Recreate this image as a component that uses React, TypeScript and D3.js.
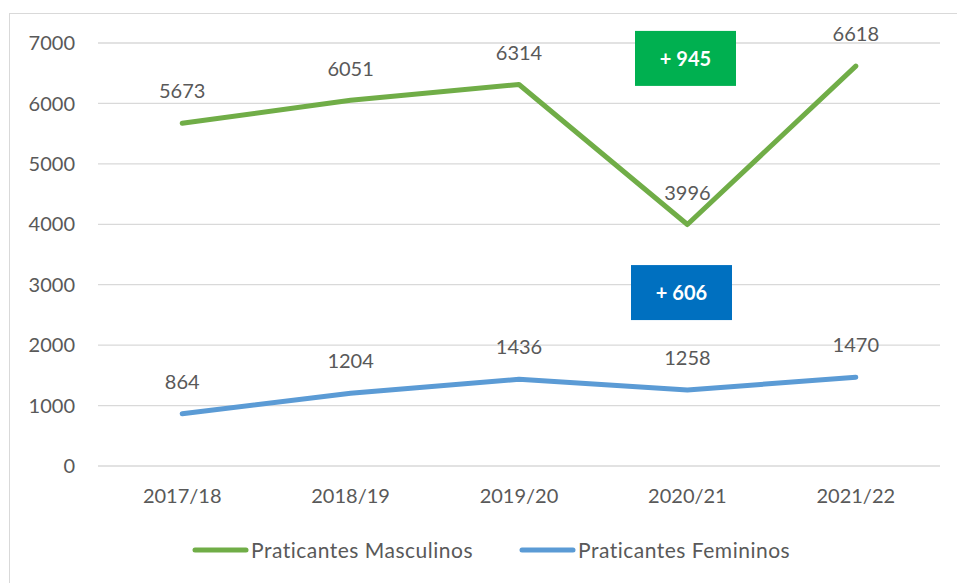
import React from "react";
import * as d3 from "d3";

const categories = ["2017/18", "2018/19", "2019/20", "2020/21", "2021/22"];
const masculinos = [5673, 6051, 6314, 3996, 6618];
const femininos = [864, 1204, 1436, 1258, 1470];
const yTicks = [0, 1000, 2000, 3000, 4000, 5000, 6000, 7000];
const seriesNames = ["Praticantes Masculinos", "Praticantes Femininos"];
const badges = [
  { label: "+ 945", value: 6745, color: "#00B050" },
  { label: "+ 606", value: 2870, color: "#0070C0" },
];

const W = 957;
const H = 583;
const FONT = "Lato, 'Open Sans', sans-serif";
const TEXT = "#595959";

export default function App() {
  const x = d3.scaleBand<string>().domain(categories).range([98, 940]);
  const y = d3.scaleLinear().domain([0, 7000]).range([466, 43]);
  const cx = (c: string) => (x(c) as number) + x.bandwidth() / 2;

  const line = d3
    .line<number>()
    .x((_, i) => cx(categories[i]))
    .y((d) => y(d));

  const series = [
    { name: seriesNames[0], values: masculinos, color: "#70AD47" },
    { name: seriesNames[1], values: femininos, color: "#5B9BD5" },
  ];

  const legendX = [193, 520];

  return (
    <svg
      width={W}
      height={H}
      style={{ position: "absolute", left: 0, top: 0, background: "#fff" }}
      fontFamily={FONT}
    >
      <rect x={9.5} y={13.5} width={980} height={620} fill="#fff" stroke="#D9D9D9" strokeWidth={1} />
      {yTicks.map((t) => (
        <g key={t}>
          <line x1={98} x2={940} y1={y(t)} y2={y(t)} stroke="#D9D9D9" strokeWidth={1.3} />
          <text x={75} y={y(t)} dy="0.36em" textAnchor="end" fontSize={20} fill={TEXT}>
            {t}
          </text>
        </g>
      ))}
      {categories.map((c) => (
        <text key={c} x={cx(c)} y={496} dy="0.36em" textAnchor="middle" fontSize={20} fill={TEXT}>
          {c}
        </text>
      ))}
      {series.map((s) => (
        <g key={s.name}>
          <path
            d={line(s.values) || ""}
            fill="none"
            stroke={s.color}
            strokeWidth={5}
            strokeLinecap="round"
            strokeLinejoin="round"
          />
          {s.values.map((v, i) => (
            <text
              key={i}
              x={cx(categories[i])}
              y={y(v) - 32}
              dy="0.36em"
              textAnchor="middle"
              fontSize={20}
              fill={TEXT}
            >
              {v}
            </text>
          ))}
        </g>
      ))}
      {badges.map((b, i) => {
        const bx = i === 0 ? 635 : 631;
        const by = y(b.value) - 27.5;
        return (
          <g key={b.label}>
            <rect x={bx} y={by} width={101} height={55} fill={b.color} />
            <text
              x={bx + 50.5}
              y={by + 27.5}
              dy="0.36em"
              textAnchor="middle"
              fontSize={20}
              fontWeight="bold"
              fill="#fff"
            >
              {b.label}
            </text>
          </g>
        );
      })}
      {series.map((s, i) => (
        <g key={"leg" + s.name}>
          <line
            x1={legendX[i] + 2}
            x2={legendX[i] + 53}
            y1={550}
            y2={550}
            stroke={s.color}
            strokeWidth={5}
            strokeLinecap="round"
          />
          <text
            x={legendX[i] + 58}
            y={550}
            dy="0.36em"
            fontSize={21}
            letterSpacing={0.5}
            fill={TEXT}
          >
            {s.name}
          </text>
        </g>
      ))}
    </svg>
  );
}
